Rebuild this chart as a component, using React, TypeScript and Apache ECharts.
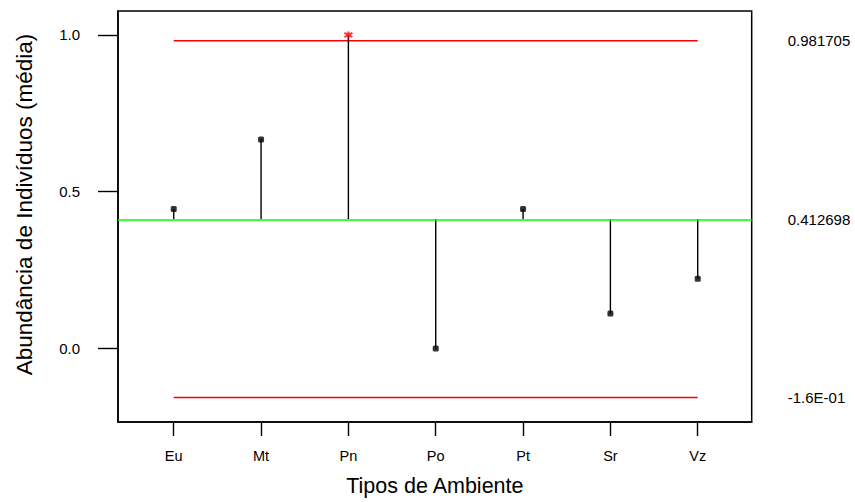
import React, { useEffect, useRef } from "react";
import * as echarts from "echarts";

const categories = ["Eu", "Mt", "Pn", "Po", "Pt", "Sr", "Vz"];
const means = [0.4444, 0.6667, 1.0, 0.0, 0.4444, 0.1111, 0.2222];
const centerLine = 0.412698;
const upperLimit = 0.981705;
const lowerLimit = -0.156309;
const limitValues = [upperLimit, centerLine, lowerLimit];
const limitLabels = ["0.981705", "0.412698", "-1.6E-01"];
const yTicks = [0, 0.5, 1.0];
const xPositions = [1, 2, 3, 4, 5, 6, 7];

const FONT = "'Liberation Sans', Arial, sans-serif";

export default function App() {
  const ref = useRef<HTMLDivElement>(null);
  useEffect(() => {
    if (!ref.current) return;
    const chart = echarts.init(ref.current, null, { renderer: "svg" });
    const yMin = -0.2347;
    const yMax = 1.0764;
    const option: any = {
      animation: false,
      backgroundColor: "#fff",
      textStyle: { fontFamily: FONT },
      grid: {
        left: 118,
        top: 11,
        right: 103.3,
        bottom: 79.3,
        show: true,
        borderColor: "#000",
        borderWidth: 1.5,
        backgroundColor: "transparent",
      },
      xAxis: {
        type: "value",
        min: 0.362,
        max: 7.618,
        name: "Tipos de Ambiente",
        nameLocation: "middle",
        nameGap: 53,
        nameTextStyle: { fontSize: 21.5, color: "#000", fontFamily: FONT },
        axisLine: { show: true, onZero: false, lineStyle: { color: "#000", width: 1.5 } },
        axisTick: {
          show: true,
          customValues: xPositions,
          length: 14,
          lineStyle: { color: "#000", width: 1.4 },
        },
        axisLabel: {
          customValues: xPositions,
          margin: 26,
          fontSize: 14.5,
          color: "#000",
          fontFamily: FONT,
          formatter: (v: number) => categories[Math.round(v) - 1] ?? "",
        },
        splitLine: { show: false },
      },
      yAxis: [
        {
          type: "value",
          min: yMin,
          max: yMax,
          name: "Abundância de Indivíduos (média)",
          nameLocation: "middle",
          nameGap: 82,
          nameTextStyle: {
            fontSize: 22.5,
            color: "#000",
            fontFamily: FONT,
            padding: [0, 0, 0, 24],
          },
          axisLine: { show: true, onZero: false, lineStyle: { color: "#000", width: 1.5 } },
          axisTick: {
            show: true,
            customValues: yTicks,
            length: 20,
            lineStyle: { color: "#000", width: 1.4 },
          },
          axisLabel: {
            customValues: yTicks,
            margin: 38,
            fontSize: 15,
            color: "#000",
            fontFamily: FONT,
            formatter: (v: number) => v.toFixed(1),
          },
          splitLine: { show: false },
        },
        {
          type: "value",
          min: yMin,
          max: yMax,
          position: "right",
          axisLine: { show: false },
          axisTick: { show: false },
          splitLine: { show: false },
          axisLabel: {
            customValues: limitValues,
            margin: 36,
            fontSize: 15,
            color: "#000",
            fontFamily: FONT,
            align: "left",
            formatter: (v: number) => {
              const i = limitValues.findIndex((l) => Math.abs(l - v) < 1e-6);
              return i >= 0 ? limitLabels[i] : "";
            },
          },
        },
      ],
      series: [
        {
          type: "line",
          symbol: "none",
          data: [
            [xPositions[0], upperLimit],
            [xPositions[xPositions.length - 1], upperLimit],
          ],
          lineStyle: { color: "#ff0000", width: 1.5 },
          markLine: {
            silent: true,
            symbol: "none",
            label: { show: false },
            lineStyle: { color: "#00ff00", width: 1.5, type: "solid" },
            data: [{ yAxis: centerLine }],
          },
          z: 2,
        },
        {
          type: "line",
          symbol: "none",
          data: [
            [xPositions[0], lowerLimit],
            [xPositions[xPositions.length - 1], lowerLimit],
          ],
          lineStyle: { color: "#ff0000", width: 1.5 },
          z: 2,
        },
        {
          type: "custom",
          data: means.map((v, i) => [xPositions[i], v]),
          renderItem: (params: any, api: any) => {
            const x = api.value(0);
            const y = api.value(1);
            const p0 = api.coord([x, centerLine]);
            const p1 = api.coord([x, y]);
            return {
              type: "line",
              shape: { x1: p0[0], y1: p0[1], x2: p1[0], y2: p1[1] },
              style: { stroke: "#000", lineWidth: 1.4 },
            };
          },
          z: 3,
        },
        {
          type: "scatter",
          data: means.map((v, i) => {
            const out = v > upperLimit || v < lowerLimit;
            return out
              ? {
                  value: [xPositions[i], v],
                  symbol: "path://M0,-5L0,5M-5,-3L5,3M-5,3L5,-3",
                  symbolSize: [8, 7],
                  itemStyle: { color: "#ff0000", borderColor: "#ff0000", borderWidth: 2 },
                }
              : {
                  value: [xPositions[i], v],
                  symbol: "roundRect",
                  symbolSize: 6,
                  itemStyle: { color: "#000" },
                };
          }),
          z: 4,
        },
      ],
    };
    chart.setOption(option);
    return () => chart.dispose();
  }, []);
  return (
    <div
      ref={ref}
      style={{ position: "fixed", left: 0, top: 0, width: 855, height: 502 }}
    />
  );
}
